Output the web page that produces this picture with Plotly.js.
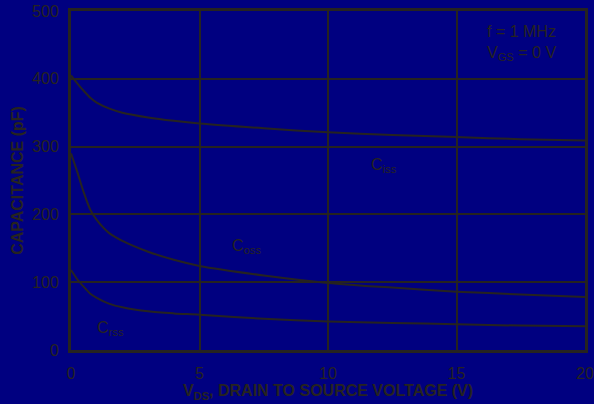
<!DOCTYPE html>
<html>
<head>
<meta charset="utf-8">
<script src="https://cdn.plot.ly/plotly-3.0.1.min.js"></script>
<style>html,body{margin:0;padding:0;background:#000080;}#chart{width:594px;height:404px;}</style>
</head>
<body>
<div id="chart"></div>
<script>
const vds  = [0, 0.25, 0.5, 0.75, 1, 1.5, 2, 3, 4, 5, 7.5, 10, 12.5, 15, 17.5, 20];
const ciss = [405, 393, 382, 372, 365, 356, 350, 343, 338, 334, 327, 321, 317, 314, 311, 309];
const coss = [290, 262, 232, 207, 192, 172, 161, 145, 133, 124, 110, 99, 92, 86, 82, 78];
const crss = [118, 104, 93, 83, 77, 68, 63, 57, 54, 52, 46, 42, 40, 38, 36, 35];
const xTicks = [0, 5, 10, 15, 20];
const yTicks = [0, 100, 200, 300, 400, 500];

const ink = '#262320';
const font = '"Liberation Sans", Arial, sans-serif';
const line = {color: ink, width: 2, shape: 'spline', smoothing: 0.8};

const traces = [
  {x: vds, y: ciss, mode: 'lines', line: line, hoverinfo: 'skip'},
  {x: vds, y: coss, mode: 'lines', line: line, hoverinfo: 'skip'},
  {x: vds, y: crss, mode: 'lines', line: line, hoverinfo: 'skip'}
];

const layout = {
  width: 594, height: 404,
  paper_bgcolor: '#000080', plot_bgcolor: '#000080',
  margin: {l: 71, r: 9, t: 11, b: 54},
  showlegend: false,
  font: {family: font, color: ink, size: 16},
  xaxis: {
    range: [0, 20], tickvals: xTicks, ticktext: xTicks.map(String),
    showgrid: true, gridcolor: ink, gridwidth: 2,
    showline: true, linecolor: ink, linewidth: 3, mirror: true,
    zeroline: false, ticks: '', ticklabelstandoff: 7,
    tickfont: {size: 16, color: ink, family: font},
    title: {text: 'V<sub>DS</sub>, DRAIN TO SOURCE VOLTAGE (V)', font: {size: 16, color: ink, family: font, weight: 'bold'}, standoff: 1}
  },
  yaxis: {
    range: [0, 500], tickvals: yTicks, ticktext: yTicks.map(String),
    showgrid: true, gridcolor: ink, gridwidth: 2,
    showline: true, linecolor: ink, linewidth: 3, mirror: true,
    zeroline: false, ticks: '', ticklabelstandoff: 6,
    tickfont: {size: 16, color: ink, family: font},
    title: {text: 'CAPACITANCE (pF)', font: {size: 16, color: ink, family: font, weight: 'bold'}, standoff: 5}
  },
  annotations: [
    {x: 0.805, y: 0.905, xref: 'paper', yref: 'paper', text: 'f = 1 MHz<br>V<sub>GS</sub> = 0 V', showarrow: false, align: 'left', xanchor: 'left', yanchor: 'middle', font: {size: 16, color: ink, family: font}},
    {x: 11.6, y: 272, text: 'C<sub>iss</sub>', xanchor: 'left', showarrow: false, font: {size: 16, color: ink, family: font}},
    {x: 6.19, y: 152, text: 'C<sub>oss</sub>', xanchor: 'left', showarrow: false, font: {size: 16, color: ink, family: font}},
    {x: 0.93, y: 32, text: 'C<sub>rss</sub>', xanchor: 'left', showarrow: false, font: {size: 16, color: ink, family: font}}
  ]
};

Plotly.newPlot('chart', traces, layout, {displayModeBar: false, staticPlot: true});
</script>
</body>
</html>
